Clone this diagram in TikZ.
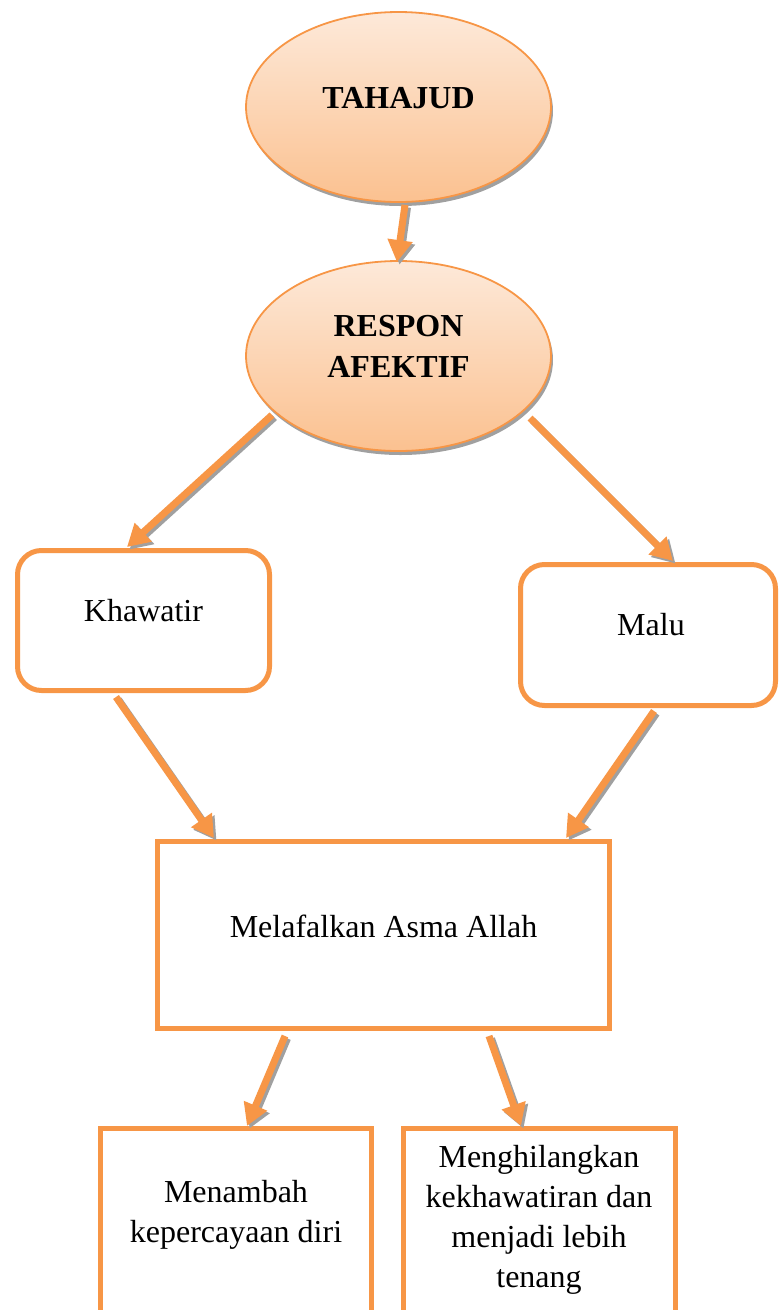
\documentclass[tikz,border=0pt]{standalone}
\usepackage{fontspec}
\setmainfont{Liberation Serif}
\usetikzlibrary{shapes.geometric,arrows.meta,calc,shadows}
\definecolor{accent}{HTML}{F79646}
\definecolor{peachtop}{HTML}{FDE9D9}
\definecolor{peachbot}{HTML}{FBC190}
\definecolor{shade}{HTML}{A0A0A0}

\tikzset{
  bubble/.style={ellipse, draw=accent, line width=1.8pt, top color=peachtop,
    bottom color=peachbot, minimum width=305pt, minimum height=190pt,
    drop shadow={fill=shade, shadow xshift=2pt, shadow yshift=-4pt, opacity=1}},
  roundbox/.style={draw=accent, line width=5pt, rounded corners=24pt, fill=white, inner sep=0pt},
  plainbox/.style={draw=accent, line width=5pt, fill=white, inner sep=0pt},
  txt/.style={font=\fontsize{32}{40}\selectfont, anchor=base, align=center, inner sep=0pt},
  heading/.style={txt, font=\fontsize{32}{41}\selectfont\bfseries},
  flow/.style={draw=accent, line width=7pt, -{Triangle[width=24pt,length=22pt]}},
  flowshade/.style={draw=shade, line width=7pt, -{Triangle[width=24pt,length=22pt]},
    transform canvas={shift={(2.5pt,-2.5pt)}}},
}
% an arrow with its grey shadow drawn underneath
\newcommand\flowarrow[2]{\draw[flowshade] #1 -- #2; \draw[flow] #1 -- #2;}

\begin{document}
\begin{tikzpicture}[x=1pt,y=-1pt]
  \useasboundingbox (0,0) rectangle (779,1310);
  \clip (0,0) rectangle (779,1310);

  % top ellipses (multi-line labels are placed by their last baseline)
  \node[bubble] (tahajud) at (398.5,107) {};
  \node[heading] (tahajudlbl) at (398.5,108) {TAHAJUD};
  \node[bubble] (respon) at (398.5,356) {};
  \node[heading] (responlbl) at (398.5,377) {RESPON\\AFEKTIF};

  % rounded boxes
  \node[roundbox, minimum width=252pt, minimum height=140pt] (khawatir) at (143.5,620.5) {};
  \node[txt] (khawatirlbl) at (143.5,621) {Khawatir};
  \node[roundbox, minimum width=255pt, minimum height=141pt] (malu) at (648,635) {};
  \node[txt] (malulbl) at (651,635) {Malu};

  % central box
  \node[plainbox, minimum width=452pt, minimum height=187pt] (asma) at (383.5,935) {};
  \node[txt] (asmalbl) at (383.5,937) {Melafalkan Asma Allah};

  % result boxes
  \node[plainbox, minimum width=271pt, minimum height=216.5pt] (tambah) at (236,1236.75) {};
  \node[txt] (tambahlbl) at (236,1242) {Menambah\\kepercayaan diri};
  \node[plainbox, minimum width=272pt, minimum height=216.5pt] (tenang) at (539,1236.75) {};
  \node[txt] (tenanglbl) at (539,1287) {Menghilangkan\\kekhawatiran dan\\menjadi lebih\\tenang};

  % connectors
  \flowarrow{($(tahajud.south)+(6.5,2)$)}{($(respon.north)+(-1.5,2)$)}
  \flowarrow{($(respon.center)+(-126.5,59)$)}{($(khawatir.north)+(-16.5,-1)$)}
  \flowarrow{($(respon.center)+(131.5,62)$)}{($(malu.north)+(25,-1)$)}
  \flowarrow{($(khawatir.south)+(-27.5,4)$)}{($(asma.north)+(-169.5,-1)$)}
  \flowarrow{($(malu.south)+(6,3)$)}{($(asma.north)+(182.5,-1)$)}
  \flowarrow{($(asma.south)+(-98.5,5)$)}{($(tambah.north)+(11,0)$)}
  \flowarrow{($(asma.south)+(105.5,5)$)}{($(tenang.north)+(-18,0)$)}
\end{tikzpicture}
\end{document}
